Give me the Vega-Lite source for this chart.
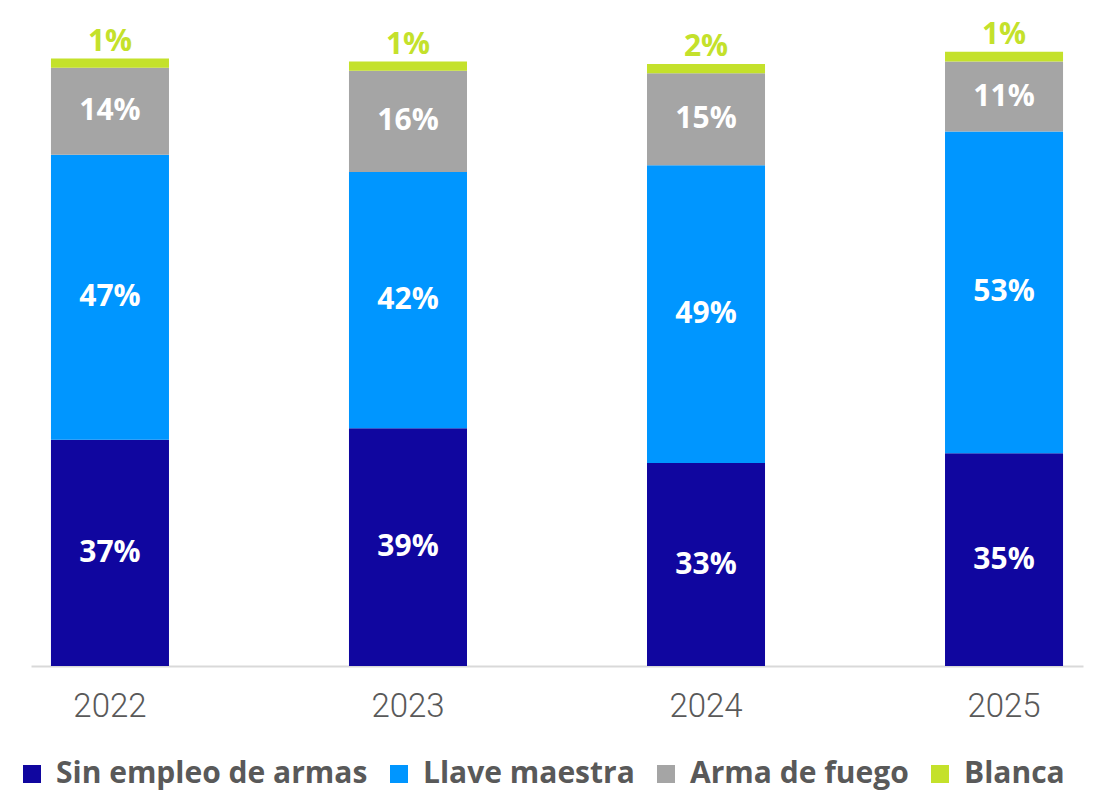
{
  "$schema": "https://vega.github.io/schema/vega-lite/v6.json",
  "autosize": {"type": "none"},
  "padding": {"left": 31, "top": 53, "right": 30, "bottom": 127},
  "width": 1052,
  "height": 613,
  "background": "white",
  "config": {"view": {"stroke": null}, "font": "Open Sans"},
  "data": {
    "values": [
      {"year": "2022", "type": "Sin empleo de armas", "order": 1, "value": 36.9, "label": "37%"},
      {"year": "2022", "type": "Llave maestra", "order": 2, "value": 46.5, "label": "47%"},
      {"year": "2022", "type": "Arma de fuego", "order": 3, "value": 14.2, "label": "14%"},
      {"year": "2022", "type": "Blanca", "order": 4, "value": 1.5, "label": "1%"},
      {"year": "2023", "type": "Sin empleo de armas", "order": 1, "value": 38.8, "label": "39%"},
      {"year": "2023", "type": "Llave maestra", "order": 2, "value": 41.8, "label": "42%"},
      {"year": "2023", "type": "Arma de fuego", "order": 3, "value": 16.5, "label": "16%"},
      {"year": "2023", "type": "Blanca", "order": 4, "value": 1.5, "label": "1%"},
      {"year": "2024", "type": "Sin empleo de armas", "order": 1, "value": 33.1, "label": "33%"},
      {"year": "2024", "type": "Llave maestra", "order": 2, "value": 48.6, "label": "49%"},
      {"year": "2024", "type": "Arma de fuego", "order": 3, "value": 15.0, "label": "15%"},
      {"year": "2024", "type": "Blanca", "order": 4, "value": 1.5, "label": "2%"},
      {"year": "2025", "type": "Sin empleo de armas", "order": 1, "value": 34.7, "label": "35%"},
      {"year": "2025", "type": "Llave maestra", "order": 2, "value": 52.5, "label": "53%"},
      {"year": "2025", "type": "Arma de fuego", "order": 3, "value": 11.4, "label": "11%"},
      {"year": "2025", "type": "Blanca", "order": 4, "value": 1.6, "label": "1%"}
    ]
  },
  "transform": [
    {"stack": "value", "groupby": ["year"], "sort": [{"field": "order", "order": "ascending"}], "as": ["y0", "y1"]},
    {"calculate": "(datum.y0 + datum.y1) / 2", "as": "ymid"}
  ],
  "encoding": {
    "x": {
      "field": "year", "type": "nominal",
      "scale": {"paddingInner": 0.604, "paddingOuter": 0.067},
      "axis": {
        "title": null, "labelAngle": 0, "ticks": false,
        "domainColor": "#D9D9D9", "domainWidth": 2,
        "labelFont": "Roboto", "labelFontWeight": 300, "labelFontSize": 33,
        "labelColor": "#595959", "labelPadding": 24
      }
    }
  },
  "layer": [
    {
      "mark": {"type": "bar"},
      "encoding": {
        "y": {"field": "y0", "type": "quantitative", "scale": {"domain": [0, 100]}, "axis": null},
        "y2": {"field": "y1"},
        "color": {
          "field": "type", "type": "nominal",
          "sort": ["Sin empleo de armas", "Llave maestra", "Arma de fuego", "Blanca"],
          "scale": {
            "domain": ["Sin empleo de armas", "Llave maestra", "Arma de fuego", "Blanca"],
            "range": ["#10069F", "#0096FF", "#A5A5A5", "#C4E12B"]
          },
          "legend": {
            "title": null, "orient": "none", "direction": "horizontal", "columns": 4,
            "legendX": -14, "legendY": 706,
            "symbolType": "square", "symbolSize": 324, "symbolStrokeWidth": 0,
            "labelFont": "Open Sans", "labelFontWeight": "bold", "labelFontSize": 30,
            "labelColor": "#595959", "labelOffset": 9, "columnPadding": 16,
            "labelLimit": 400
          }
        }
      }
    },
    {
      "transform": [{"filter": "datum.type !== 'Blanca'"}],
      "mark": {"type": "text", "color": "white", "fontWeight": "bold", "fontSize": 30, "font": "Open Sans", "baseline": "middle"},
      "encoding": {
        "y": {"field": "ymid", "type": "quantitative"},
        "text": {"field": "label"}
      }
    },
    {
      "transform": [{"filter": "datum.type === 'Blanca'"}],
      "mark": {"type": "text", "color": "#C4E12B", "fontWeight": "bold", "fontSize": 30, "font": "Open Sans", "baseline": "middle", "dy": -17},
      "encoding": {
        "y": {"field": "y1", "type": "quantitative"},
        "text": {"field": "label"}
      }
    }
  ]
}
